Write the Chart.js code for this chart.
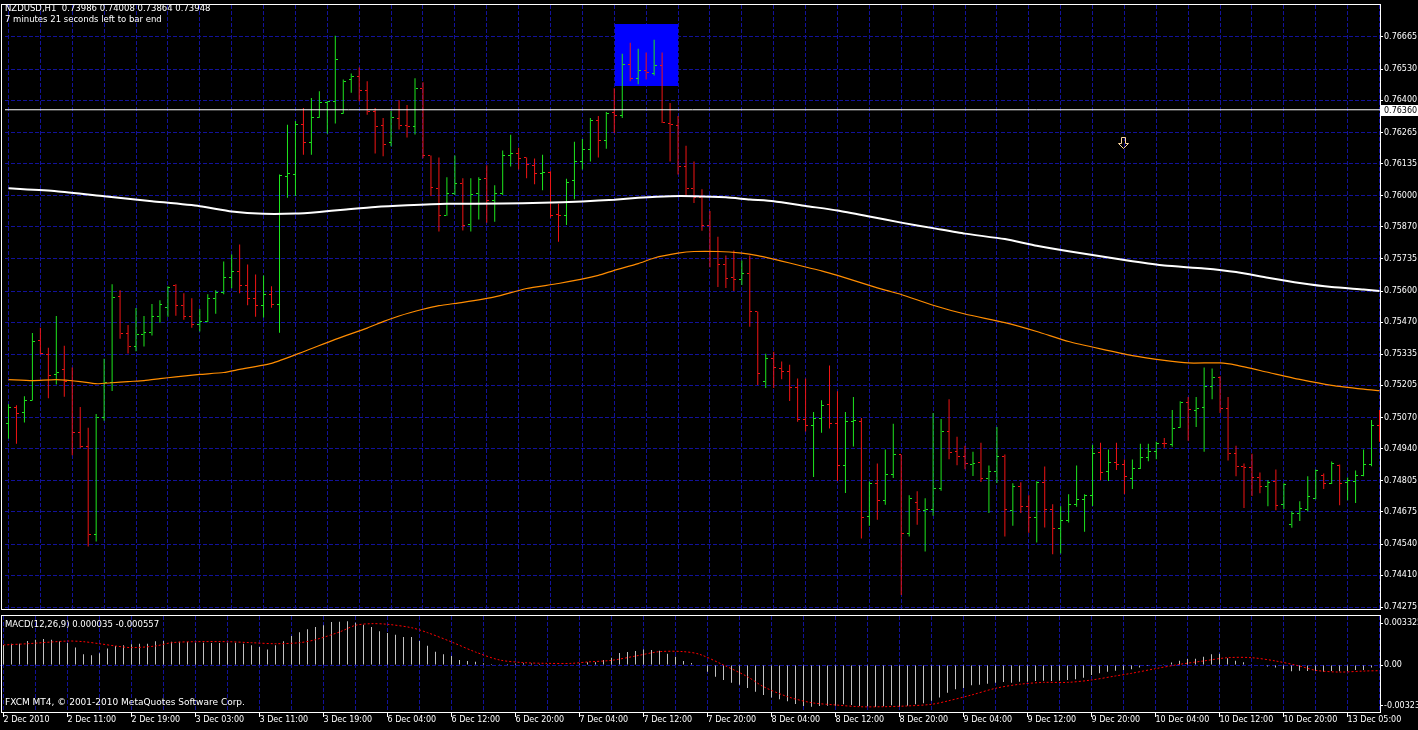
<!DOCTYPE html>
<html>
<head>
<meta charset="utf-8">
<script src="https://cdn.jsdelivr.net/npm/chart.js@4.4.0/dist/chart.umd.min.js"></script>
<style>
  html, body { margin: 0; padding: 0; background: #000; overflow: hidden; }
  #wrap { position: relative; width: 1418px; height: 730px; background: #000; }
  canvas { position: absolute; left: 0; }
  #main { top: 0; }
  #macd { top: 614px; }
  .txt { position: absolute; left: 5px; color: #fff; font: 8.5px "DejaVu Sans", sans-serif; white-space: pre; line-height: 11px; }
</style>
</head>
<body>
<div id="wrap">
  <canvas id="main" width="1418" height="614"></canvas>
  <canvas id="macd" width="1418" height="116"></canvas>
  <div class="txt" style="top:3px">NZDUSD,H1  0.73986 0.74008 0.73864 0.73948</div>
  <div class="txt" style="top:14px">7 minutes 21 seconds left to bar end</div>
  <div class="txt" style="top:619px">MACD(12,26,9) 0.000035 -0.000557</div>
  <div class="txt" style="top:697px; font-size:9px">FXCM MT4, © 2001-2010 MetaQuotes Software Corp.</div>
</div>
<script>
// NZDUSD H1 bars, 2 Dec 2010 03:00 .. 13 Dec 2010
const opens = [0.75044,0.75113,0.75092,0.75142,0.75392,0.75333,0.75250,0.75270,0.75226,0.75006,
0.74951,0.74579,0.75071,0.75216,0.75577,0.75424,0.75366,0.75420,0.75428,0.75494,
0.75532,0.75624,0.75540,0.75494,0.75461,0.75472,0.75569,0.75594,0.75656,0.75681,
0.75623,0.75569,0.75540,0.75586,0.75544,0.76080,0.76088,0.76300,0.76221,0.76329,
0.76391,0.76395,0.76346,0.76486,0.76500,0.76441,0.76353,0.76295,0.76221,0.76324,
0.76295,0.76291,0.76449,0.76167,0.76031,0.75919,0.76009,0.76051,0.75880,0.76009,
0.76071,0.75980,0.76009,0.76167,0.76175,0.76158,0.76125,0.76092,0.76097,0.75922,
0.75918,0.76063,0.76142,0.76192,0.76316,0.76233,0.76349,0.76337,0.76548,0.76490,
0.76524,0.76511,0.76544,0.76304,0.76295,0.76121,0.76030,0.75994,0.75873,0.75767,
0.75710,0.75656,0.75648,0.75673,0.75515,0.75221,0.75316,0.75275,0.75262,0.75196,
0.75063,0.75038,0.75067,0.75125,0.75046,0.74869,0.75055,0.75055,0.74656,0.74795,
0.74723,0.74831,0.74914,0.74586,0.74715,0.74681,0.74685,0.74772,0.75013,0.74926,
0.74905,0.74872,0.74880,0.74814,0.74843,0.74905,0.74681,0.74781,0.74699,0.74652,
0.74797,0.74685,0.74607,0.74640,0.74706,0.74727,0.74743,0.74922,0.74843,0.74880,
0.74872,0.74814,0.74855,0.74901,0.74930,0.74963,0.74959,0.75030,0.75135,0.75100,
0.75113,0.75200,0.75237,0.75109,0.74918,0.74864,0.74861,0.74818,0.74782,0.74802,
0.74707,0.74624,0.74670,0.74687,0.74732,0.74828,0.74795,0.74869,0.74799,0.74803,
0.74828,0.74873,0.75038];
const highs = [0.75126,0.75122,0.75160,0.75425,0.75447,0.75363,0.75496,0.75371,0.75280,0.75114,
0.75027,0.75085,0.75317,0.75629,0.75604,0.75458,0.75529,0.75496,0.75546,0.75562,
0.75620,0.75629,0.75591,0.75570,0.75525,0.75587,0.75604,0.75724,0.75753,0.75795,
0.75712,0.75670,0.75666,0.75620,0.76089,0.76297,0.76313,0.76367,0.76409,0.76438,
0.76396,0.76670,0.76487,0.76512,0.76537,0.76479,0.76367,0.76326,0.76355,0.76400,
0.76380,0.76492,0.76475,0.76168,0.76160,0.76077,0.76168,0.76073,0.76073,0.76077,
0.76127,0.76044,0.76189,0.76255,0.76201,0.76160,0.76156,0.76172,0.76102,0.75966,
0.76071,0.76226,0.76238,0.76326,0.76334,0.76351,0.76450,0.76595,0.76641,0.76616,
0.76600,0.76653,0.76600,0.76388,0.76334,0.76209,0.76143,0.76027,0.75936,0.75828,
0.75749,0.75770,0.75728,0.75749,0.75515,0.75338,0.75346,0.75305,0.75292,0.75234,
0.75234,0.75093,0.75143,0.75288,0.75180,0.75093,0.75156,0.75068,0.74802,0.74878,
0.74936,0.75044,0.74914,0.74745,0.74761,0.74732,0.75089,0.75064,0.75147,0.74990,
0.74952,0.74927,0.74965,0.74869,0.75031,0.74915,0.74795,0.74799,0.74745,0.74803,
0.74865,0.74707,0.74699,0.74749,0.74869,0.74749,0.74956,0.74965,0.74936,0.74965,
0.74894,0.74894,0.74960,0.74960,0.74969,0.74985,0.75102,0.75139,0.75156,0.75156,
0.75280,0.75276,0.75243,0.75156,0.74952,0.74878,0.74919,0.74840,0.74807,0.74853,
0.74795,0.74678,0.74720,0.74824,0.74853,0.74836,0.74886,0.74873,0.74819,0.74848,
0.74936,0.75060,0.75102];
const lows = [0.74981,0.74960,0.75049,0.75142,0.75334,0.75151,0.75209,0.75157,0.74912,0.74943,
0.74530,0.74551,0.75057,0.75182,0.75400,0.75339,0.75348,0.75368,0.75414,0.75468,
0.75493,0.75497,0.75480,0.75447,0.75431,0.75470,0.75505,0.75587,0.75612,0.75591,
0.75541,0.75493,0.75489,0.75530,0.75426,0.75991,0.75999,0.76172,0.76172,0.76327,
0.76260,0.76302,0.76343,0.76431,0.76396,0.76339,0.76177,0.76165,0.76207,0.76277,
0.76244,0.76256,0.76157,0.75999,0.75850,0.75916,0.76003,0.75854,0.75850,0.75900,
0.75887,0.75891,0.76003,0.76122,0.76110,0.76073,0.76048,0.76023,0.75907,0.75807,
0.75877,0.75985,0.76110,0.76143,0.76160,0.76197,0.76263,0.76326,0.76480,0.76467,
0.76487,0.76504,0.76305,0.76143,0.76089,0.76002,0.75969,0.75853,0.75700,0.75617,
0.75613,0.75601,0.75626,0.75451,0.75207,0.75194,0.75194,0.75231,0.75140,0.75053,
0.75012,0.74821,0.75007,0.75024,0.74804,0.74754,0.74949,0.74563,0.74617,0.74642,
0.74705,0.74817,0.74327,0.74572,0.74621,0.74509,0.74659,0.74763,0.74895,0.74870,
0.74854,0.74825,0.74800,0.74670,0.74796,0.74572,0.74617,0.74670,0.74588,0.74547,
0.74609,0.74497,0.74501,0.74630,0.74696,0.74592,0.74700,0.74808,0.74804,0.74850,
0.74750,0.74771,0.74855,0.74887,0.74895,0.74944,0.74948,0.75028,0.74973,0.75031,
0.74927,0.75147,0.75089,0.74890,0.74824,0.74691,0.74741,0.74753,0.74699,0.74682,
0.74687,0.74608,0.74637,0.74678,0.74728,0.74771,0.74792,0.74703,0.74724,0.74712,
0.74824,0.74866,0.74969];
const closes = [0.75113,0.75089,0.75142,0.75391,0.75337,0.75246,0.75259,0.75223,0.75006,0.74951,
0.74579,0.75071,0.75216,0.75573,0.75424,0.75366,0.75420,0.75428,0.75494,0.75544,
0.75615,0.75540,0.75494,0.75461,0.75472,0.75569,0.75594,0.75656,0.75681,0.75624,
0.75569,0.75540,0.75586,0.75544,0.76084,0.76092,0.76300,0.76221,0.76329,0.76391,
0.76393,0.76569,0.76478,0.76500,0.76441,0.76353,0.76291,0.76216,0.76329,0.76295,
0.76291,0.76449,0.76167,0.76035,0.75919,0.76009,0.76052,0.75876,0.76005,0.76067,
0.75980,0.76009,0.76167,0.76175,0.76154,0.76129,0.76092,0.76096,0.75918,0.75918,
0.76055,0.76142,0.76192,0.76316,0.76233,0.76345,0.76337,0.76548,0.76490,0.76524,
0.76515,0.76544,0.76308,0.76300,0.76121,0.76030,0.75994,0.75873,0.75767,0.75710,
0.75652,0.75648,0.75673,0.75515,0.75254,0.75316,0.75279,0.75262,0.75196,0.75063,
0.75038,0.75067,0.75121,0.75046,0.74869,0.75055,0.75059,0.74652,0.74795,0.74723,
0.74831,0.74914,0.74586,0.74731,0.74685,0.74683,0.74772,0.75013,0.74922,0.74905,
0.74876,0.74876,0.74814,0.74843,0.74905,0.74685,0.74781,0.74699,0.74652,0.74797,
0.74685,0.74607,0.74640,0.74706,0.74727,0.74743,0.74918,0.74839,0.74880,0.74872,
0.74822,0.74855,0.74901,0.74930,0.74963,0.74962,0.75026,0.75135,0.75105,0.75109,
0.75200,0.75237,0.75109,0.74918,0.74864,0.74863,0.74818,0.74782,0.74799,0.74703,
0.74790,0.74669,0.74690,0.74741,0.74848,0.74795,0.74878,0.74793,0.74807,0.74828,
0.74873,0.75039,0.74981];

// moving averages, read at sample bars
const maWhiteBars = [0,6,12,18,24,28,32,36,39,42,46,50,55,62,67,72,76,79,83,86,
  90,93,96,100,104,108,112,116,120,125,129,133,137,141,145,150,154,158,162,166,170,172];
const maWhiteVals = [0.76031,0.76019,0.75998,0.75977,0.75956,0.75934,0.75924,0.75925,0.75932,0.75941,
  0.75953,0.75960,0.75966,0.75967,0.75970,0.75976,0.75983,0.75991,0.75998,0.75998,
  0.75993,0.75984,0.75977,0.75957,0.75938,0.75913,0.75887,0.75864,0.75841,0.75818,
  0.75790,0.75767,0.75746,0.75725,0.75707,0.75695,0.75680,0.75656,0.75634,0.75617,0.75607,0.75601];
const maOrangeBars = [0,3,6,9,11,13,15,17,19,21,24,27,29,33,37,41,45,47,49,52,
  54,57,61,65,69,74,76,79,81,84,86,89,92,94,96,98,100,102,104,106,
  108,110,112,116,120,125,129,133,137,141,145,148,152,154,158,162,166,170,172];
const maOrangeVals = [0.75229,0.75225,0.75229,0.75221,0.75212,0.75216,0.75221,0.75225,0.75233,0.75241,
  0.75251,0.75259,0.75272,0.75297,0.75346,0.75398,0.75445,0.75472,0.75496,0.75524,
  0.75539,0.75553,0.75576,0.75611,0.75632,0.75666,0.75687,0.75715,0.75739,0.75759,
  0.75766,0.75766,0.75759,0.75749,0.75734,0.75718,0.75701,0.75685,0.75666,0.75645,
  0.75624,0.75604,0.75586,0.75541,0.75504,0.75468,0.75431,0.75389,0.75358,0.75330,
  0.75310,0.75299,0.75299,0.75290,0.75260,0.75230,0.75205,0.75189,0.75183];

// MACD(12,26,9): main line shown as histogram, signal as dotted line
const macdMain = [0.00159,0.00169,0.00169,0.00190,0.00201,0.00206,0.00201,0.00188,0.00175,0.00138,
0.00085,0.00077,0.00093,0.00130,0.00151,0.00156,0.00164,0.00169,0.00169,0.00188,
0.00190,0.00185,0.00185,0.00183,0.00177,0.00177,0.00175,0.00175,0.00177,0.00177,
0.00169,0.00156,0.00143,0.00124,0.00156,0.00188,0.00230,0.00259,0.00283,0.00302,
0.00315,0.00341,0.00344,0.00347,0.00336,0.00320,0.00302,0.00267,0.00254,0.00241,
0.00222,0.00222,0.00190,0.00153,0.00106,0.00085,0.00071,0.00040,0.00032,0.00026,
0.00013,0.00008,0.00005,0.00008,0.00011,0.00013,0.00011,0.00008,0.00005,-0.00003,
-0.00003,0.00003,0.00011,0.00021,0.00021,0.00040,0.00058,0.00095,0.00103,0.00111,
0.00124,0.00119,0.00114,0.00090,0.00066,0.00032,0.00016,-0.00003,-0.00053,-0.00093,
-0.00119,-0.00140,-0.00156,-0.00183,-0.00212,-0.00238,-0.00257,-0.00272,-0.00288,-0.00310,
-0.00325,-0.00331,-0.00325,-0.00323,-0.00323,-0.00312,-0.00317,-0.00325,-0.00328,-0.00333,
-0.00328,-0.00320,-0.00331,-0.00323,-0.00312,-0.00304,-0.00283,-0.00257,-0.00220,-0.00193,
-0.00183,-0.00161,-0.00156,-0.00148,-0.00140,-0.00135,-0.00140,-0.00132,-0.00132,-0.00127,
-0.00124,-0.00127,-0.00124,-0.00119,-0.00114,-0.00101,-0.00079,-0.00066,-0.00053,-0.00045,
-0.00040,-0.00034,-0.00019,-0.00008,-0.00005,0.00005,0.00019,0.00034,0.00048,0.00050,
0.00066,0.00085,0.00090,0.00053,0.00034,0.00021,0.00005,-0.00003,-0.00011,-0.00019,
-0.00034,-0.00050,-0.00045,-0.00048,-0.00048,-0.00053,-0.00048,-0.00050,-0.00048,-0.00040,
-0.00040,-0.00019,0.00004];
const signalBars = [0,3,8,10,12,14,16,19,21,24,28,31,34,37,39,42,44,46,48,51,
  53,56,59,62,65,68,71,73,76,79,82,85,87,90,93,95,98,101,104,107,
  110,113,116,118,121,124,127,130,133,136,139,141,144,147,150,153,156,159,162,164,167,170,172];
const signalVals = [0.00159,0.00169,0.00190,0.00185,0.00169,0.00151,0.00138,0.00151,0.00177,0.00185,
  0.00185,0.00177,0.00169,0.00177,0.00201,0.00262,0.00315,0.00328,0.00323,0.00296,
  0.00257,0.00183,0.00103,0.00040,0.00019,0.00013,0.00013,0.00024,0.00037,0.00071,
  0.00106,0.00106,0.00085,0.00000,-0.00093,-0.00172,-0.00251,-0.00299,-0.00317,-0.00331,
  -0.00331,-0.00325,-0.00312,-0.00286,-0.00238,-0.00185,-0.00153,-0.00138,-0.00138,-0.00119,
  -0.00087,-0.00066,-0.00029,0.00005,0.00032,0.00058,0.00058,0.00032,-0.00008,-0.00042,
  -0.00056,-0.00048,-0.00045];

// axis labels
const timeLabels = ['2 Dec 2010','2 Dec 11:00','2 Dec 19:00','3 Dec 03:00','3 Dec 11:00','3 Dec 19:00',
  '6 Dec 04:00','6 Dec 12:00','6 Dec 20:00','7 Dec 04:00','7 Dec 12:00','7 Dec 20:00',
  '8 Dec 04:00','8 Dec 12:00','8 Dec 20:00','9 Dec 04:00','9 Dec 12:00','9 Dec 20:00',
  '10 Dec 04:00','10 Dec 12:00','10 Dec 20:00','13 Dec 05:00'];
const priceTicks = [0.76665,0.76530,0.76400,0.76265,0.76135,0.76000,0.75870,0.75735,0.75600,0.75470,
  0.75335,0.75205,0.75070,0.74940,0.74805,0.74675,0.74540,0.74410,0.74275];
const macdTicks = [0.003325, 0, -0.00323];
const macdTickLabels = ['0.003325', '0.00', '-0.00323'];

// objects on the chart
const hLinePrice = 0.7636;
const boxBars = [76.06, 83.94];
const boxPrices = [0.7672, 0.76458];
const arrowBar = 139.8, arrowPrice = 0.76247;

const GREEN = '#1ee61e', RED = '#f01414';
const GRID = '#12129a';
const FONT = { family: 'DejaVu Sans', size: 8 };
const xMin = -0.4375, xMax = 172.0625;

const up = opens.map((o, i) => closes[i] >= o);
const barColors = up.map(u => u ? GREEN : RED);

function tickImg(left, color) {
  const c = document.createElement('canvas');
  c.width = 5; c.height = 1;
  const g = c.getContext('2d');
  g.fillStyle = color;
  g.fillRect(left ? 0 : 3, 0, 2, 1);
  return c;
}
const openImg = { g: tickImg(true, GREEN), r: tickImg(true, RED) };
const closeImg = { g: tickImg(false, GREEN), r: tickImg(false, RED) };

function xAxis(labels) {
  return {
    type: 'linear', min: xMin, max: xMax, offset: false,
    afterBuildTicks: s => {
      const t = [];
      for (let v = 0; v <= 172; v += 4) t.push({ value: v });
      s.ticks = t;
    },
    grid: {
      color: GRID, offset: false, drawTicks: labels, tickLength: 5,
      tickColor: c => (c.tick && c.tick.value % 8 === 0) ? '#ffffff' : 'rgba(0,0,0,0)'
    },
    border: { display: false, dash: [4, 2] },
    ticks: {
      display: labels, autoSkip: false, maxRotation: 0, minRotation: 0, align: 'start',
      padding: -2, color: '#ffffff', font: FONT,
      callback: v => (v % 8 === 0 ? timeLabels[v / 8] : '')
    },
    afterFit: s => { s.height = labels ? 18 : 0; s.paddingLeft = 0; s.paddingRight = 0; }
  };
}

const mainDecor = {
  id: 'mainDecor',
  beforeDatasetsDraw(chart) {
    const { ctx, scales: { x, y } } = chart;
    ctx.imageSmoothingEnabled = false;
    const x1 = Math.round(x.getPixelForValue(boxBars[0])), x2 = Math.round(x.getPixelForValue(boxBars[1]));
    const y1 = Math.round(y.getPixelForValue(boxPrices[0])), y2 = Math.round(y.getPixelForValue(boxPrices[1]));
    ctx.save();
    ctx.fillStyle = '#0000ff';
    ctx.fillRect(x1, y1, x2 - x1, y2 - y1);
    ctx.restore();
  },
  afterDraw(chart) {
    const { ctx, chartArea: a, scales: { x, y } } = chart;
    ctx.save();
    // arrow object
    const ax = Math.round(x.getPixelForValue(arrowBar)) + 0.5;
    const ay = Math.round(y.getPixelForValue(arrowPrice)) + 0.5;
    ctx.beginPath();
    ctx.moveTo(ax - 2, ay); ctx.lineTo(ax + 2, ay); ctx.lineTo(ax + 2, ay + 6);
    ctx.lineTo(ax + 5, ay + 6); ctx.lineTo(ax, ay + 11); ctx.lineTo(ax - 5, ay + 6);
    ctx.lineTo(ax - 2, ay + 6); ctx.closePath();
    ctx.strokeStyle = '#ffd8a0'; ctx.lineWidth = 1; ctx.stroke();
    // frame
    ctx.strokeStyle = '#ffffff';
    ctx.strokeRect(1.5, a.top - 0.5, a.right - 1, a.bottom - a.top + 1);
    // price label of the horizontal line
    const py = Math.round(y.getPixelForValue(hLinePrice));
    ctx.fillStyle = '#ffffff';
    ctx.fillRect(a.right + 1, py - 5, 40, 11);
    ctx.fillStyle = '#000000';
    ctx.font = '8px "DejaVu Sans"';
    ctx.textBaseline = 'middle';
    ctx.fillText(hLinePrice.toFixed(5), a.right + 4, py + 0.5);
    ctx.restore();
  }
};

const frameOnly = {
  id: 'frameOnly',
  afterDraw(chart) {
    const { ctx, chartArea: a } = chart;
    ctx.save();
    ctx.strokeStyle = '#ffffff';
    ctx.lineWidth = 1;
    ctx.strokeRect(1.5, a.top - 0.5, a.right - 1, a.bottom - a.top + 1);
    ctx.restore();
  }
};

new Chart(document.getElementById('main'), {
  type: 'bar',
  data: {
    datasets: [
      {
        type: 'line', order: 0,
        data: [{ x: xMin, y: hLinePrice }, { x: xMax, y: hLinePrice }],
        borderColor: '#ffffff', borderWidth: 1, pointRadius: 0
      },
      {
        type: 'line', order: 1,
        data: maWhiteBars.map((b, i) => ({ x: b, y: maWhiteVals[i] })),
        borderColor: '#ffffff', borderWidth: 2, pointRadius: 0, tension: 0.2
      },
      {
        type: 'line', order: 2,
        data: maOrangeBars.map((b, i) => ({ x: b, y: maOrangeVals[i] })),
        borderColor: '#ff8c00', borderWidth: 1.2, pointRadius: 0, tension: 0.2
      },
      {
        type: 'scatter', order: 3,
        data: opens.map((o, i) => ({ x: i, y: o })),
        pointStyle: up.map(u => u ? openImg.g : openImg.r),
        pointRadius: 2
      },
      {
        type: 'scatter', order: 3,
        data: closes.map((c, i) => ({ x: i, y: c })),
        pointStyle: up.map(u => u ? closeImg.g : closeImg.r),
        pointRadius: 2
      },
      {
        type: 'bar', order: 4,
        data: lows.map((l, i) => ({ x: i, y: [l, highs[i]] })),
        backgroundColor: barColors,
        borderWidth: 0, barThickness: 1, inflateAmount: 0, grouped: false
      }
    ]
  },
  options: {
    responsive: false, animation: false, events: [],
    layout: { padding: { top: 2, bottom: 2, left: 0, right: 0 } },
    plugins: { legend: { display: false }, tooltip: { enabled: false } },
    scales: {
      x: xAxis(false),
      y: {
        position: 'right', min: 0.74268, max: 0.76799,
        afterBuildTicks: s => { s.ticks = priceTicks.map(v => ({ value: v })); },
        grid: { color: GRID, tickColor: '#ffffff', tickLength: 3 },
        border: { display: false, dash: [4, 2] },
        ticks: { color: '#ffffff', padding: 1, font: FONT, callback: v => v.toFixed(5) },
        afterFit: s => { s.width = 38; s.paddingTop = 0; s.paddingBottom = 0; }
      }
    }
  },
  plugins: [mainDecor]
});

new Chart(document.getElementById('macd'), {
  type: 'bar',
  data: {
    datasets: [
      {
        type: 'line', order: 0,
        data: signalBars.map((b, i) => ({ x: b, y: signalVals[i] })),
        borderColor: '#ff0000', borderWidth: 1, borderDash: [2, 2], pointRadius: 0, tension: 0.3
      },
      {
        type: 'bar', order: 1,
        data: macdMain.map((v, i) => ({ x: i, y: v })),
        backgroundColor: '#c0c0c0', borderWidth: 0, barThickness: 1, inflateAmount: 0
      }
    ]
  },
  options: {
    responsive: false, animation: false, events: [],
    layout: { padding: { top: 2, bottom: 0, left: 0, right: 0 } },
    plugins: { legend: { display: false }, tooltip: { enabled: false } },
    scales: {
      x: xAxis(true),
      y: {
        position: 'right', min: -0.00373, max: 0.003889,
        afterBuildTicks: s => { s.ticks = macdTicks.map(v => ({ value: v })); },
        grid: { color: c => (c.tick && c.tick.value === 0) ? GRID : 'rgba(0,0,0,0)', tickColor: '#ffffff', tickLength: 3 },
        border: { display: false, dash: [4, 2] },
        ticks: { color: '#ffffff', padding: 1, font: FONT, callback: (v, i) => macdTickLabels[i] },
        afterFit: s => { s.width = 38; s.paddingTop = 0; s.paddingBottom = 0; }
      }
    }
  },
  plugins: [frameOnly]
});
</script>
</body>
</html>
